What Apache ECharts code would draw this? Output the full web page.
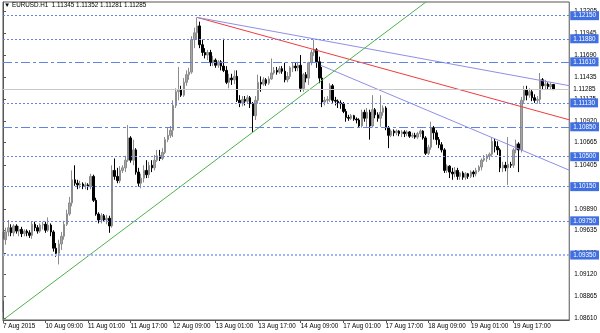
<!DOCTYPE html>
<html><head><meta charset="utf-8">
<script src="https://cdn.jsdelivr.net/npm/echarts@6/dist/echarts.min.js"></script>
<style>html,body{margin:0;padding:0;background:#fff}#c{width:600px;height:333px}</style>
</head><body><div id="c"></div>
<script>
const chartTitle = '\u25BC EURUSD.H1  1.11345 1.11352 1.11281 1.11285';
const xTickLabels = ['7 Aug 2015','10 Aug 09:00','11 Aug 01:00','11 Aug 17:00','12 Aug 09:00','13 Aug 01:00','13 Aug 17:00','14 Aug 09:00','17 Aug 01:00','17 Aug 17:00','18 Aug 09:00','19 Aug 01:00','19 Aug 17:00'];
const yTickValues = [1.08610,1.08865,1.09120,1.09375,1.09635,1.09890,1.10150,1.10405,1.10665,1.10920,1.11175,1.11435,1.11690,1.11945,1.12205];
const yMin = 1.0859, yMax = 1.1231;
const firstBar = '2015-08-07T17:00:00Z';
const slotCount = 214;
// [open, close, low, high]
const ohlc = [
[1.0882,1.0953,1.0868,1.0962],[1.0953,1.0962,1.0947,1.0967],[1.0962,1.0967,1.0957,1.0976],[1.0967,1.0961,1.0957,1.0971],
[1.0961,1.0969,1.0957,1.0971],[1.0969,1.0963,1.0960,1.0971],[1.0963,1.0965,1.0957,1.0969],[1.0965,1.0960,1.0956,1.0968],
[1.0960,1.0963,1.0957,1.0965],[1.0963,1.0961,1.0957,1.0965],[1.0961,1.0958,1.0955,1.0964],[1.0958,1.0971,1.0954,1.0974],
[1.0971,1.0967,1.0963,1.0974],[1.0967,1.0963,1.0960,1.0970],[1.0963,1.0970,1.0961,1.0972],[1.0970,1.0971,1.0965,1.0974],
[1.0971,1.0964,1.0961,1.0974],[1.0964,1.0970,1.0962,1.0979],[1.0970,1.0962,1.0957,1.0972],[1.0962,1.0943,1.0939,1.0964],
[1.0943,1.0937,1.0933,1.0949],[1.0937,1.0948,1.0924,1.0953],[1.0948,1.0957,1.0941,1.0962],[1.0957,1.0971,1.0953,1.0975],
[1.0971,1.0983,1.0969,1.0988],[1.0983,1.0996,1.0981,1.1003],[1.0996,1.1023,1.0992,1.1034],[1.1023,1.1019,1.1016,1.1040],
[1.1019,1.1017,1.1012,1.1023],[1.1017,1.1018,1.1013,1.1022],[1.1018,1.1016,1.1012,1.1020],[1.1016,1.1017,1.1012,1.1020],
[1.1017,1.1015,1.1011,1.1019],[1.1015,1.1027,1.1012,1.1030],[1.1027,1.0999,1.0997,1.1029],[1.0999,1.0983,1.0981,1.1002],
[1.0983,1.0976,1.0972,1.0985],[1.0976,1.0981,1.0972,1.0984],[1.0981,1.0976,1.0974,1.0983],[1.0976,1.0978,1.0971,1.0982],
[1.0978,1.0969,1.0961,1.0981],[1.0969,1.1034,1.0967,1.1040],[1.1034,1.1027,1.1023,1.1048],[1.1027,1.1022,1.1019,1.1037],
[1.1022,1.1034,1.1019,1.1039],[1.1034,1.1037,1.1031,1.1040],[1.1037,1.1046,1.1032,1.1051],[1.1046,1.1072,1.1044,1.1087],
[1.1072,1.1046,1.1043,1.1074],[1.1046,1.1058,1.1040,1.1070],[1.1058,1.1032,1.1029,1.1060],[1.1032,1.1019,1.1015,1.1037],
[1.1019,1.1025,1.1013,1.1030],[1.1025,1.1034,1.1020,1.1040],[1.1034,1.1029,1.1025,1.1046],[1.1029,1.1040,1.1025,1.1044],
[1.1040,1.1037,1.1032,1.1046],[1.1037,1.1046,1.1034,1.1052],[1.1046,1.1051,1.1044,1.1058],[1.1051,1.1048,1.1045,1.1058],
[1.1048,1.1055,1.1046,1.1060],[1.1055,1.1070,1.1053,1.1073],[1.1070,1.1075,1.1067,1.1084],[1.1075,1.1081,1.1072,1.1086],
[1.1081,1.1110,1.1073,1.1116],[1.1110,1.1126,1.1107,1.1130],[1.1126,1.1128,1.1116,1.1155],[1.1128,1.1122,1.1120,1.1133],
[1.1122,1.1137,1.1120,1.1142],[1.1137,1.1146,1.1133,1.1151],[1.1146,1.1149,1.1140,1.1154],[1.1149,1.1187,1.1147,1.1191],
[1.1187,1.1195,1.1177,1.1201],[1.1195,1.1203,1.1187,1.1213],[1.1203,1.1181,1.1177,1.1208],[1.1181,1.1172,1.1168,1.1187],
[1.1172,1.1169,1.1165,1.1177],[1.1169,1.1172,1.1163,1.1175],[1.1172,1.1160,1.1156,1.1175],[1.1160,1.1163,1.1156,1.1168],
[1.1163,1.1157,1.1154,1.1165],[1.1157,1.1161,1.1154,1.1163],[1.1161,1.1156,1.1151,1.1163],[1.1156,1.1151,1.1149,1.1188],
[1.1151,1.1137,1.1135,1.1156],[1.1137,1.1142,1.1130,1.1147],[1.1142,1.1140,1.1134,1.1147],[1.1140,1.1144,1.1135,1.1151],
[1.1144,1.1116,1.1114,1.1151],[1.1116,1.1113,1.1108,1.1122],[1.1113,1.1117,1.1109,1.1121],[1.1117,1.1115,1.1110,1.1121],
[1.1115,1.1119,1.1112,1.1122],[1.1119,1.1112,1.1107,1.1121],[1.1112,1.1098,1.1079,1.1114],[1.1098,1.1116,1.1093,1.1121],
[1.1116,1.1137,1.1112,1.1146],[1.1137,1.1135,1.1126,1.1144],[1.1135,1.1140,1.1133,1.1143],[1.1140,1.1136,1.1133,1.1142],
[1.1136,1.1141,1.1134,1.1144],[1.1141,1.1148,1.1140,1.1165],[1.1148,1.1151,1.1146,1.1155],[1.1151,1.1149,1.1146,1.1155],
[1.1149,1.1153,1.1147,1.1156],[1.1153,1.1150,1.1147,1.1156],[1.1150,1.1140,1.1137,1.1160],[1.1140,1.1144,1.1137,1.1149],
[1.1144,1.1154,1.1141,1.1156],[1.1154,1.1156,1.1149,1.1160],[1.1156,1.1154,1.1150,1.1160],[1.1154,1.1157,1.1150,1.1161],
[1.1157,1.1130,1.1126,1.1169],[1.1130,1.1146,1.1126,1.1148],[1.1146,1.1142,1.1137,1.1149],[1.1142,1.1160,1.1134,1.1161],
[1.1160,1.1172,1.1157,1.1175],[1.1172,1.1175,1.1168,1.1187],[1.1175,1.1161,1.1154,1.1177],[1.1161,1.1142,1.1136,1.1167],
[1.1142,1.1114,1.1108,1.1155],[1.1114,1.1116,1.1110,1.1120],[1.1116,1.1117,1.1113,1.1121],[1.1117,1.1133,1.1114,1.1136],
[1.1133,1.1116,1.1113,1.1135],[1.1116,1.1115,1.1110,1.1120],[1.1115,1.1113,1.1107,1.1117],[1.1113,1.1112,1.1106,1.1116],
[1.1112,1.1103,1.1101,1.1114],[1.1103,1.1096,1.1091,1.1106],[1.1096,1.1095,1.1092,1.1099],[1.1095,1.1098,1.1093,1.1100],
[1.1098,1.1094,1.1092,1.1099],[1.1094,1.1093,1.1089,1.1096],[1.1093,1.1086,1.1084,1.1095],[1.1086,1.1102,1.1084,1.1105],
[1.1102,1.1095,1.1091,1.1105],[1.1095,1.1102,1.1085,1.1107],[1.1102,1.1086,1.1070,1.1105],[1.1086,1.1105,1.1084,1.1122],
[1.1105,1.1099,1.1095,1.1107],[1.1099,1.1095,1.1091,1.1102],[1.1095,1.1102,1.1085,1.1122],[1.1102,1.1107,1.1098,1.1110],
[1.1107,1.1084,1.1081,1.1109],[1.1084,1.1075,1.1060,1.1086],[1.1075,1.1080,1.1073,1.1082],[1.1080,1.1078,1.1074,1.1082],
[1.1078,1.1080,1.1075,1.1082],[1.1080,1.1077,1.1074,1.1081],[1.1077,1.1079,1.1073,1.1081],[1.1079,1.1077,1.1073,1.1081],
[1.1077,1.1079,1.1074,1.1081],[1.1079,1.1074,1.1072,1.1080],[1.1074,1.1075,1.1072,1.1078],[1.1075,1.1073,1.1071,1.1078],
[1.1073,1.1077,1.1071,1.1079],[1.1077,1.1080,1.1073,1.1082],[1.1080,1.1072,1.1070,1.1081],[1.1072,1.1054,1.1052,1.1074],
[1.1054,1.1061,1.1052,1.1064],[1.1061,1.1084,1.1058,1.1091],[1.1084,1.1078,1.1070,1.1086],[1.1078,1.1070,1.1064,1.1081],
[1.1070,1.1064,1.1060,1.1073],[1.1064,1.1058,1.1055,1.1067],[1.1058,1.1034,1.1031,1.1060],[1.1034,1.1039,1.1031,1.1041],
[1.1039,1.1032,1.1025,1.1040],[1.1032,1.1030,1.1023,1.1037],[1.1030,1.1034,1.1026,1.1038],[1.1034,1.1027,1.1023,1.1037],
[1.1027,1.1031,1.1023,1.1032],[1.1031,1.1026,1.1023,1.1033],[1.1026,1.1030,1.1023,1.1032],[1.1030,1.1027,1.1024,1.1031],
[1.1027,1.1032,1.1025,1.1034],[1.1032,1.1030,1.1026,1.1034],[1.1030,1.1034,1.1027,1.1037],[1.1034,1.1038,1.1032,1.1040],
[1.1038,1.1046,1.1034,1.1048],[1.1046,1.1048,1.1044,1.1052],[1.1048,1.1051,1.1044,1.1053],[1.1051,1.1053,1.1046,1.1055],
[1.1053,1.1068,1.1051,1.1073],[1.1068,1.1062,1.1055,1.1071],[1.1062,1.1058,1.1052,1.1068],[1.1058,1.1037,1.1032,1.1060],
[1.1037,1.1040,1.1032,1.1044],[1.1040,1.1037,1.1033,1.1044],[1.1037,1.1041,1.1017,1.1073],[1.1041,1.1040,1.1037,1.1044],
[1.1040,1.1058,1.1037,1.1060],[1.1058,1.1065,1.1054,1.1070],[1.1065,1.1058,1.1032,1.1067],[1.1058,1.1116,1.1055,1.1120],
[1.1116,1.1128,1.1113,1.1133],[1.1128,1.1122,1.1116,1.1133],[1.1122,1.1126,1.1119,1.1130],[1.1126,1.1119,1.1115,1.1128],
[1.1119,1.1116,1.1113,1.1123],[1.1116,1.1117,1.1112,1.1121],[1.1117,1.1140,1.1113,1.1148],[1.1140,1.1133,1.1128,1.1142],
[1.1133,1.1135,1.1128,1.1140],[1.1135,1.1132,1.1129,1.1137],[1.1132,1.11345,1.1128,1.1137],[1.11345,1.11285,1.11281,1.11352]
];
const dottedLevels = [1.12150, 1.11880, 1.11130, 1.10500, 1.10150, 1.09750];
const dashDotLevels = [1.11610, 1.10850];
const paleLevel = 1.09350;
const currentPrice = 1.11285;
const redLine = [[73, 1.1213], [213.2, 1.1093]];
const upperBlueLine = [[73, 1.1213], [213.2, 1.1133]];
const lowerBlueLine = [[119.5, 1.1157], [213.2, 1.1034]];
const greenLine = [[0, 1.0859], [159.1, 1.1231]];

const MON = ['Jan','Feb','Mar','Apr','May','Jun','Jul','Aug','Sep','Oct','Nov','Dec'];
const categories = [];
let t = new Date(firstBar).getTime();
while (categories.length < slotCount) {
  const d = new Date(t);
  const wd = d.getUTCDay();
  if (wd !== 0 && wd !== 6) {
    categories.push(d.getUTCDate() + ' ' + MON[d.getUTCMonth()] + ' ' + String(d.getUTCHours()).padStart(2,'0') + ':00');
  }
  t += 3600000;
}

const FONT = 'Liberation Sans';
const FS = 6.3;
const blueLabel = {show:true, position:'end', distance:1, formatter: p => Number(p.value).toFixed(5),
  color:'#fff', backgroundColor:'#3f6fe0', fontSize:FS, fontFamily:FONT, padding:[2,3,1,3]};
const mlData = [];
dottedLevels.forEach(v => mlData.push({yAxis:v, lineStyle:{type:[2,2], color:'#6283e4', width:1}, label:blueLabel}));
dashDotLevels.forEach(v => mlData.push({yAxis:v, lineStyle:{type:[9,3,3,3], color:'#6283e4', width:1}, label:blueLabel}));
mlData.push({yAxis:paleLevel, lineStyle:{type:[2,2], color:'#a3b5f0', width:2}, label:blueLabel});
mlData.push({yAxis:currentPrice, lineStyle:{type:'solid', color:'#c8c8c8', width:1},
  label:{show:true, position:'end', distance:1, formatter: p => Number(p.value).toFixed(5), color:'#000',
    backgroundColor:'#fff', fontSize:FS, fontFamily:FONT, padding:[2,3,1,3]}});

const trend = (data, color) => ({type:'line', xAxisIndex:1, yAxisIndex:0, data, symbol:'none', silent:true,
  lineStyle:{color, width:1}, z:3, animation:false});

const chart = echarts.init(document.getElementById('c'), null, {renderer:'canvas'});
chart.setOption({
  backgroundColor:'#fff',
  animation:false,
  title:{text:chartTitle, left:4, top:2, padding:0, textStyle:{fontSize:FS, fontWeight:'normal', color:'#000', fontFamily:FONT}},
  grid:{left:2, top:2, right:29, bottom:13, show:true, borderColor:'#555', borderWidth:1, containLabel:false},
  xAxis:[{
    type:'category', data:categories, boundaryGap:false,
    axisLine:{show:true, lineStyle:{color:'#555'}},
    axisTick:{show:true, length:3, interval:(i)=> i % 16 === 0 && i <= 192, lineStyle:{color:'#555'}},
    axisLabel:{interval:(i)=> i % 16 === 0 && i <= 192, align:'left', margin:3, fontSize:FS, fontFamily:FONT, color:'#000',
      formatter:(v, i)=> xTickLabels[i/16] || ''},
    splitLine:{show:false}
  },{
    type:'value', min:0, max:slotCount-1, show:false
  }],
  yAxis:[{
    type:'value', position:'right', min:yMin, max:yMax, scale:true,
    axisLine:{show:true, lineStyle:{color:'#555'}},
    axisTick:{show:true, length:3, customValues:yTickValues, lineStyle:{color:'#555'}},
    axisLabel:{customValues:yTickValues, margin:5, fontSize:FS, fontFamily:FONT, color:'#000', formatter:v=>v.toFixed(5)},
    splitLine:{show:false}
  }],
  series:[{
    type:'candlestick', data:ohlc, xAxisIndex:0, yAxisIndex:0, barWidth:2,
    itemStyle:{color:'#a6a6a6', color0:'#000', borderColor:'#8c8c8c', borderColor0:'#000', borderWidth:1},
    markLine:{silent:true, symbol:'none', precision:5, animation:false, data:mlData},
    z:2
  },
  trend(redLine, '#f03c3c'),
  trend(upperBlueLine, '#8f8fe6'),
  trend(lowerBlueLine, '#8f8fe6'),
  trend(greenLine, '#4cb34c')
  ]
});
</script></body></html>
